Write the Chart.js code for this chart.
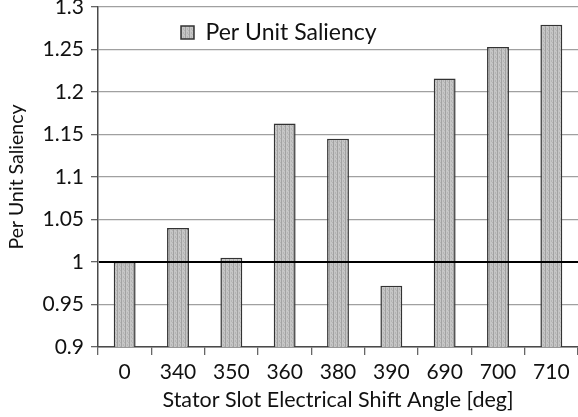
<!DOCTYPE html>
<html>
<head>
<meta charset="utf-8">
<script src="https://cdn.jsdelivr.net/npm/chart.js@4"></script>
<style>
  html, body { margin: 0; padding: 0; background: #fff; }
</style>
</head>
<body>
<canvas id="saliency" width="578" height="417"></canvas>
<script>
// stator slot shift angle vs per-unit saliency
const angles = ["0", "340", "350", "360", "380", "390", "690", "700", "710"];
const saliency = [1.0, 1.04, 1.005, 1.163, 1.145, 0.972, 1.216, 1.253, 1.279];
const seriesName = "Per Unit Saliency";
const yMin = 0.9;
const yMax = 1.3;
const yStep = 0.05;
const refLevel = 1;

const font = "Lato";
const canvas = document.getElementById("saliency");
const ctx = canvas.getContext("2d");

// dotted grey fill like the original bars
function barFill() {
  const c = document.createElement("canvas");
  c.width = 4;
  c.height = 4;
  const g = c.getContext("2d");
  g.fillStyle = "#c6c6c6";
  g.fillRect(0, 0, 4, 4);
  g.fillStyle = "#a2a2a2";
  g.fillRect(1, 0, 1, 4);
  g.fillStyle = "#b4b4b4";
  g.fillRect(3, 0, 1, 2);
  g.fillRect(0, 2, 1, 1);
  return ctx.createPattern(c, "repeat");
}
const fill = barFill();

// black line at unity saliency, on top of the bars
const refLine = {
  id: "refLine",
  afterDatasetsDraw(chart) {
    const { ctx, chartArea, scales } = chart;
    const y = scales.y.getPixelForValue(refLevel);
    ctx.save();
    ctx.strokeStyle = "#000";
    ctx.lineWidth = 2;
    ctx.beginPath();
    ctx.moveTo(chartArea.left + 1, y);
    ctx.lineTo(chartArea.right, y);
    ctx.stroke();
    ctx.restore();
  }
};

// move the legend into the upper left of the plot
const legendSpot = {
  id: "legendSpot",
  afterUpdate(chart) {
    const lg = chart.legend;
    lg.left = chart.chartArea.left + 73;
    lg.top = chart.chartArea.top + 4;
  }
};

new Chart(canvas, {
  type: "bar",
  data: {
    labels: angles,
    datasets: [
      {
        label: seriesName,
        data: saliency,
        backgroundColor: fill,
        borderColor: "#333",
        borderWidth: 1.5,
        categoryPercentage: 1,
        barPercentage: 0.41
      }
    ]
  },
  options: {
    responsive: false,
    animation: false,
    layout: { padding: { top: 7, right: 0, left: 0, bottom: 0 } },
    plugins: {
      tooltip: { enabled: false },
      legend: {
        position: "chartArea",
        align: "start",
        labels: {
          boxWidth: 13,
          boxHeight: 13,
          color: "#111",
          font: { family: font, size: 23 }
        }
      }
    },
    scales: {
      x: {
        grid: { drawOnChartArea: false, tickLength: 8, color: "#666", lineWidth: 1.3 },
        border: { color: "#4a4a4a", width: 1.5 },
        ticks: { color: "#111", padding: 5, font: { family: font, size: 21 } },
        title: {
          display: true,
          text: "Stator Slot Electrical Shift Angle [deg]",
          color: "#111",
          font: { family: font, size: 21.5 },
          padding: { top: 0, bottom: 4 }
        },
        afterFit(s) { s.height = 70; }
      },
      y: {
        min: yMin,
        max: yMax,
        grid: { color: "#a0a0a0", lineWidth: 1.3, tickLength: 7, tickColor: "#666" },
        border: { color: "#4a4a4a", width: 1.5 },
        ticks: {
          stepSize: yStep,
          color: "#111",
          padding: 7,
          font: { family: font, size: 21 },
          callback: (v) => String(Number(v.toFixed(2)))
        },
        title: {
          display: true,
          text: "Per Unit Saliency",
          color: "#111",
          font: { family: font, size: 19.5 },
          padding: { top: 5, bottom: 0 }
        },
        afterFit(s) {
          s.width = 98;
          s.paddingTop = 0;
          s.paddingBottom = 0;
        }
      }
    }
  },
  plugins: [refLine, legendSpot]
});
</script>
</body>
</html>
